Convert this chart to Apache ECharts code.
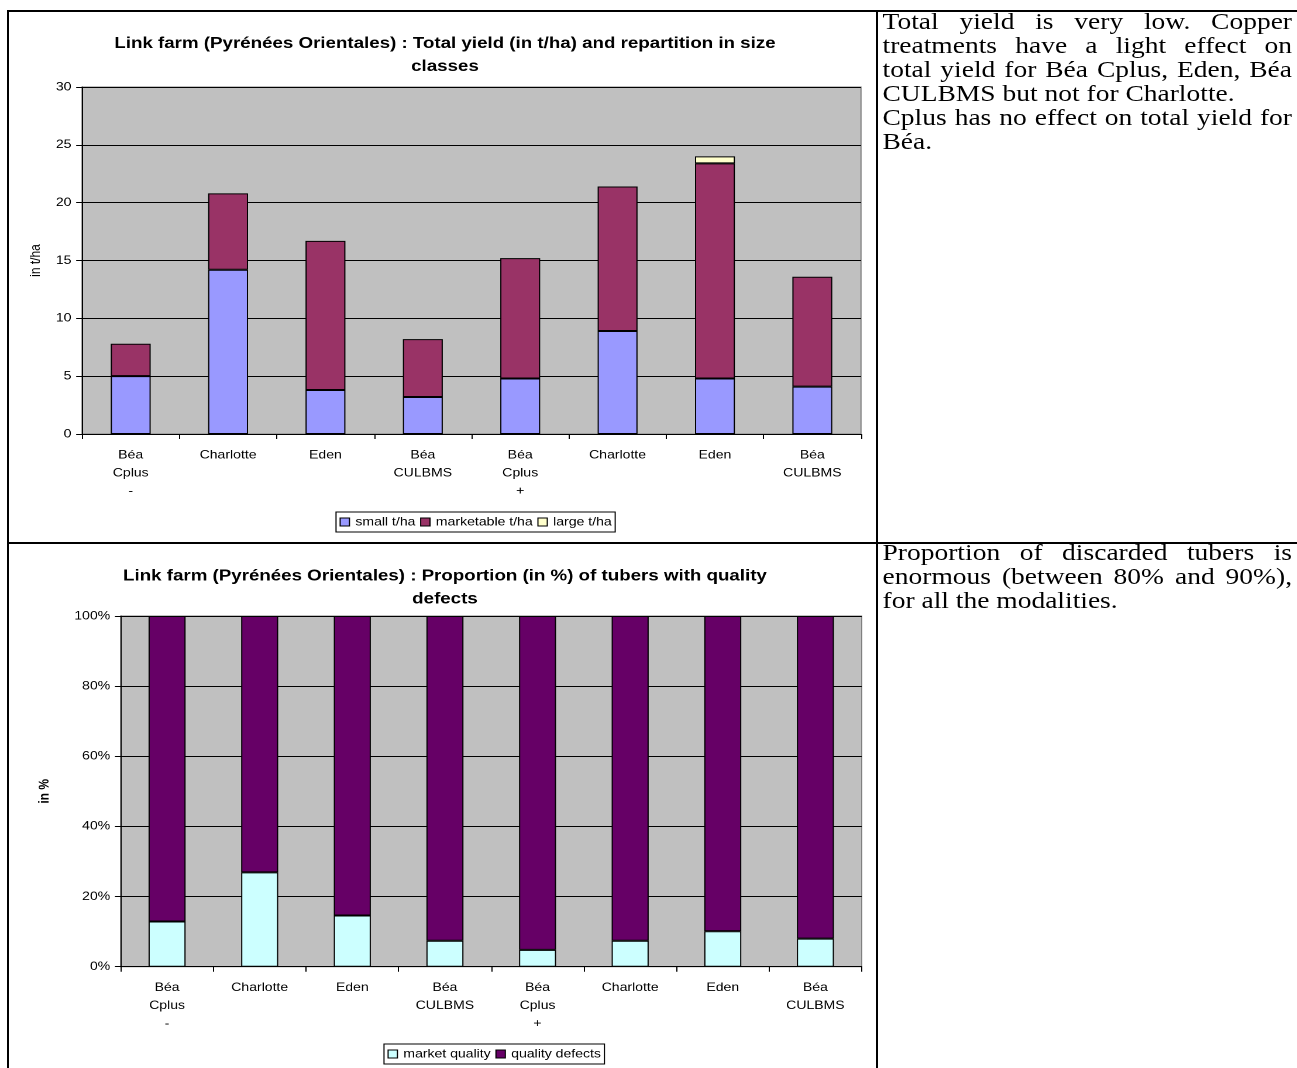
<!DOCTYPE html>
<html><head><meta charset="utf-8">
<script src="https://cdn.jsdelivr.net/npm/echarts@6/dist/echarts.min.js"></script>
<style>
html,body{margin:0;padding:0;background:#fff;width:1297px;height:1068px;overflow:hidden}
#wrap{position:absolute;left:0;top:0;width:1108.5px;height:1068px;transform:scaleX(1.17);transform-origin:0 0}
#chart{position:absolute;left:0;top:0;width:1108.5px;height:1068px}
.txt{position:absolute;font-family:'Liberation Serif','Times New Roman',Times,serif;font-size:23.5px;line-height:24px;color:#000;width:350px}
.txt div{height:24px;white-space:nowrap}
.txt .j{text-align:justify;text-align-last:justify;white-space:normal}
.b{position:absolute;background:#000}
</style></head>
<body>
<div id="wrap">
  <div id="chart"></div>
  <div class="txt" style="left:754.3px;top:9px">
    <div class="j">Total yield is very low. Copper</div>
    <div class="j">treatments have a light effect on</div>
    <div class="j">total yield for Béa Cplus, Eden, Béa</div>
    <div>CULBMS but not for Charlotte.</div>
    <div class="j">Cplus has no effect on total yield for</div>
    <div>Béa.</div>
  </div>
  <div class="txt" style="left:754.3px;top:539.5px">
    <div class="j">Proportion of discarded tubers is</div>
    <div class="j">enormous (between 80% and 90%),</div>
    <div>for all the modalities.</div>
  </div>
</div>
<div class="b" style="left:7px;top:10px;width:1290px;height:2px"></div>
<div class="b" style="left:7px;top:10px;width:2px;height:1058px"></div>
<div class="b" style="left:876px;top:10px;width:2px;height:1058px"></div>
<div class="b" style="left:7px;top:542px;width:1290px;height:2px"></div>
<script>
// ---- data ----
const categories = ['Béa\nCplus\n-', 'Charlotte', 'Eden', 'Béa\nCULBMS', 'Béa\nCplus\n+', 'Charlotte', 'Eden', 'Béa\nCULBMS'];
const smallYield      = [5.0, 14.2, 3.8, 3.2, 4.8, 8.9, 4.8, 4.1];
const marketableYield = [2.8, 6.6, 12.9, 5.0, 10.4, 12.5, 18.6, 9.5];
const largeYield      = [null, null, null, null, null, null, 0.6, null];
const marketQuality   = [12.9, 26.9, 14.6, 7.4, 4.8, 7.4, 10.1, 8.0];
const qualityDefects  = [87.1, 73.1, 85.4, 92.6, 95.2, 92.6, 89.9, 92.0];
const title1 = 'Link farm (Pyrénées Orientales) : Total yield (in t/ha) and repartition in size\nclasses';
const title2 = 'Link farm (Pyrénées Orientales) : Proportion (in %) of tubers with quality\ndefects';

const FF = '"Liberation Sans", Arial, sans-serif';
const chart = echarts.init(document.getElementById('chart'), null, {devicePixelRatio: 2});

function xAx(gi) {
  return {
    type: 'category', gridIndex: gi, data: categories,
    axisLine: {show: true, lineStyle: {color: '#000', width: 1}},
    axisTick: {show: true, length: 5, lineStyle: {color: '#000'}},
    axisLabel: {interval: 0, color: '#000', fontSize: 12, fontFamily: FF, lineHeight: 18, margin: 12},
    splitLine: {show: false}
  };
}
function yAx(gi, max, interval, fmt, name, nameBold, nameGap) {
  return {
    type: 'value', gridIndex: gi, min: 0, max: max, interval: interval,
    name: name, nameLocation: 'middle', nameGap: nameGap,
    nameTextStyle: {color: '#000', fontSize: 12, fontFamily: FF, fontWeight: nameBold ? 'bold' : 'normal'},
    axisLine: {show: true, lineStyle: {color: '#000', width: 1}},
    axisTick: {show: true, length: 5, lineStyle: {color: '#000'}},
    axisLabel: {color: '#000', fontSize: 12, fontFamily: FF, margin: 9, formatter: fmt},
    splitLine: {show: true, lineStyle: {color: '#000', width: 1}}
  };
}
const border = {borderColor: '#000', borderWidth: 1};

chart.setOption({
  animation: false,
  title: [
    {text: title1, left: 380.3, top: 32, textAlign: 'center', padding: 0,
     textStyle: {fontSize: 16, fontWeight: 'bold', fontFamily: FF, color: '#000', lineHeight: 23}},
    {text: title2, left: 380.3, top: 564.5, textAlign: 'center', padding: 0,
     textStyle: {fontSize: 16, fontWeight: 'bold', fontFamily: FF, color: '#000', lineHeight: 23}}
  ],
  grid: [
    {left: 70.1, top: 87, width: 665.8, height: 347, show: true, backgroundColor: '#C0C0C0', borderColor: '#808080', borderWidth: 1, outerBoundsMode: 'none'},
    {left: 103.2, top: 616, width: 633.3, height: 350.7, show: true, backgroundColor: '#C0C0C0', borderColor: '#808080', borderWidth: 1, outerBoundsMode: 'none'}
  ],
  legend: [
    {data: ['small t/ha', 'marketable t/ha', 'large t/ha'], left: 287.2, top: 512, orient: 'horizontal',
     itemWidth: 8, itemHeight: 8, itemGap: 4, padding: [3, 3, 3, 3], borderColor: '#000', borderWidth: 1,
     icon: 'rect', selectedMode: false, itemStyle: border,
     textStyle: {color: '#000', fontSize: 12, fontFamily: FF, lineHeight: 14}},
    {data: ['market quality', 'quality defects'], left: 328.2, top: 1044, orient: 'horizontal',
     itemWidth: 8, itemHeight: 8, itemGap: 4, padding: [3, 3, 3, 3], borderColor: '#000', borderWidth: 1,
     icon: 'rect', selectedMode: false, itemStyle: border,
     textStyle: {color: '#000', fontSize: 12, fontFamily: FF, lineHeight: 14}}
  ],
  xAxis: [xAx(0), xAx(1)],
  yAxis: [
    yAx(0, 30, 5, '{value}', 'in t/ha', false, 26),
    yAx(1, 100, 20, '{value}%', 'in %', true, 59)
  ],
  series: [
    {name: 'small t/ha', type: 'bar', stack: 'y', xAxisIndex: 0, yAxisIndex: 0, data: smallYield, barCategoryGap: '59%', itemStyle: Object.assign({color: '#9999FF'}, border)},
    {name: 'marketable t/ha', type: 'bar', stack: 'y', xAxisIndex: 0, yAxisIndex: 0, data: marketableYield, barCategoryGap: '59%', itemStyle: Object.assign({color: '#993366'}, border)},
    {name: 'large t/ha', type: 'bar', stack: 'y', xAxisIndex: 0, yAxisIndex: 0, data: largeYield, barCategoryGap: '59%', itemStyle: Object.assign({color: '#FFFFCC'}, border)},
    {name: 'market quality', type: 'bar', stack: 'q', xAxisIndex: 1, yAxisIndex: 1, data: marketQuality, barCategoryGap: '60%', itemStyle: Object.assign({color: '#CCFFFF'}, border)},
    {name: 'quality defects', type: 'bar', stack: 'q', xAxisIndex: 1, yAxisIndex: 1, data: qualityDefects, barCategoryGap: '60%', itemStyle: Object.assign({color: '#660066'}, border)}
  ]
});
</script>
</body></html>
